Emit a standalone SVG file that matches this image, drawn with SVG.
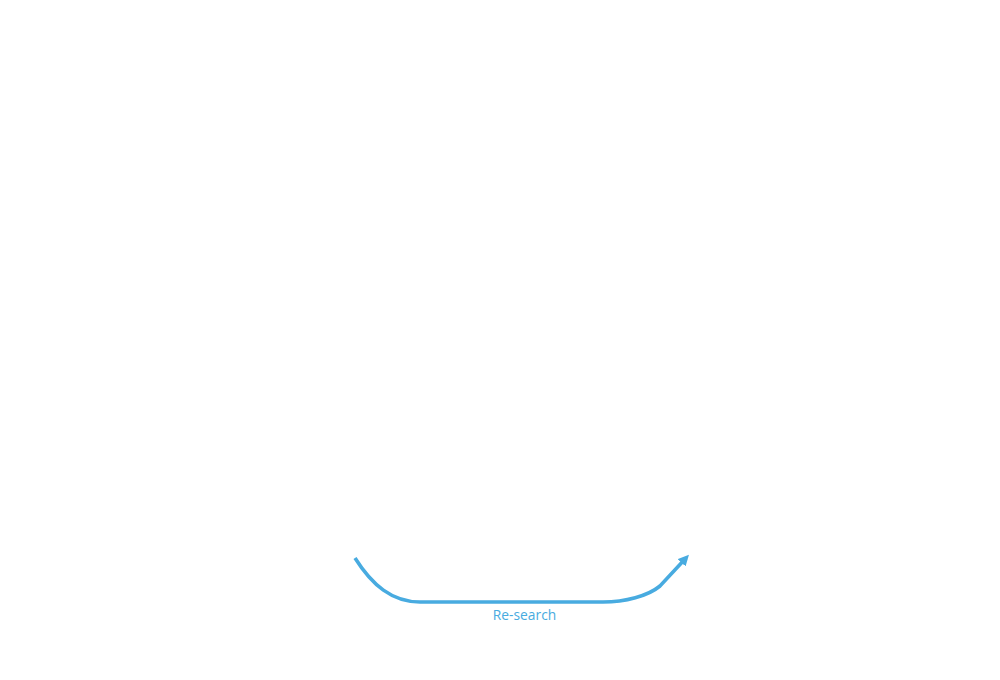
<svg xmlns="http://www.w3.org/2000/svg" width="1000" height="680" viewBox="0 0 1000 680">
<style>
.conn{fill:none;stroke:#48abe0;stroke-width:3.6;stroke-linecap:butt}
.lbl{font-family:"Open Sans","Liberation Sans",sans-serif;font-size:13.8px;fill:#48abe0}
</style>
<defs>
<marker id="ah" viewBox="0 0 10 10" refX="6" refY="5" markerWidth="3" markerHeight="3" orient="auto" markerUnits="strokeWidth">
<path d="M0,0 L10,5 L0,10 z" fill="#48abe0"/>
</marker>
</defs>
<rect width="1000" height="680" fill="#ffffff"/>
<g id="connectors">
<path class="conn" d="M355,558 C372,585 392,602 420,602 L603,602 C625,602 648,596 660,586 L686,558" marker-end="url(#ah)"/>
<text class="lbl" x="524.5" y="620" text-anchor="middle">Re-search</text>
</g>
</svg>
